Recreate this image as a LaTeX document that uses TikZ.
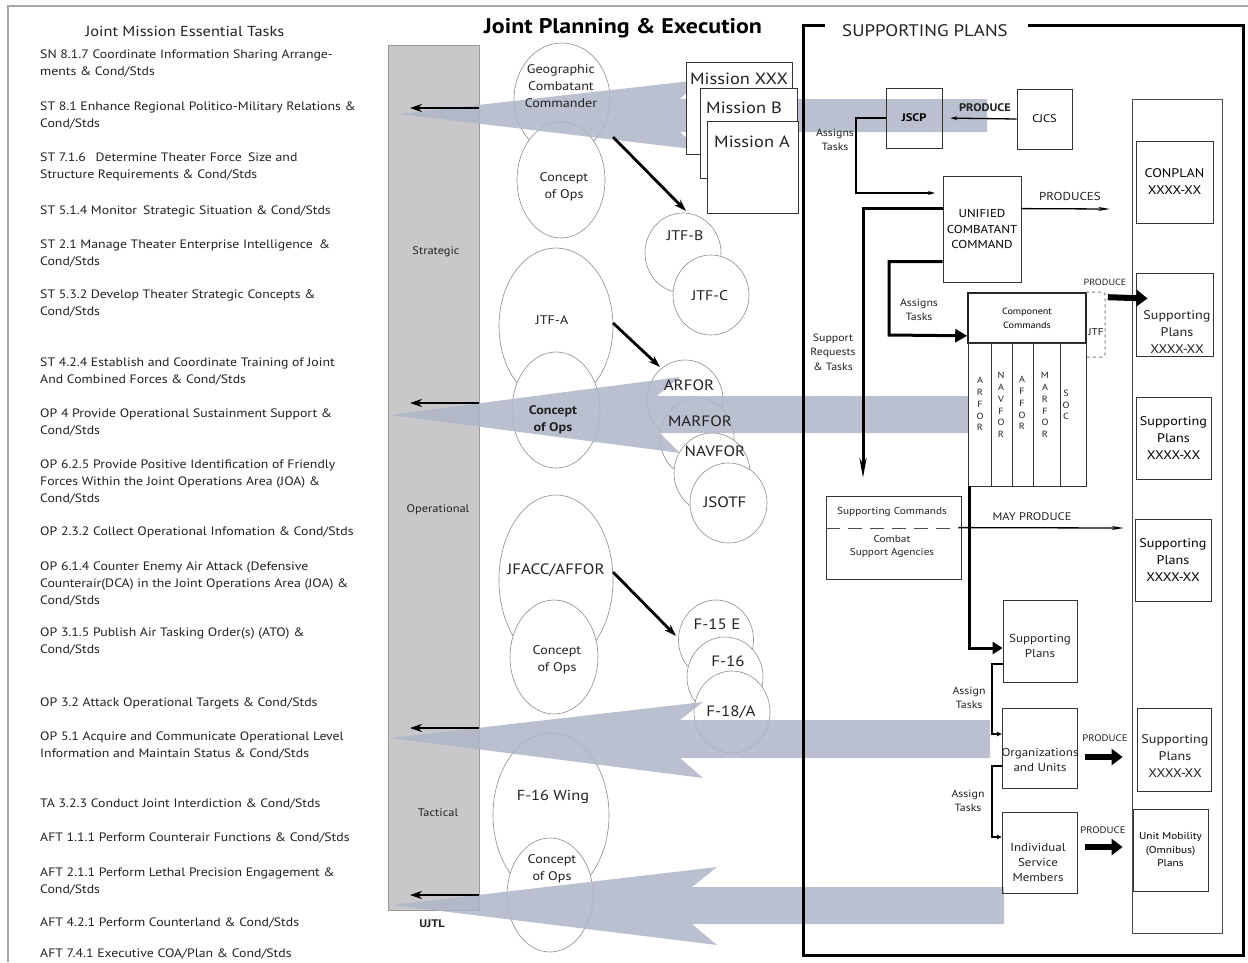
\documentclass[tikz,border=0pt]{standalone}
\usepackage{fontspec}
\setmainfont{PT Sans}[FakeStretch=1.13]
\usetikzlibrary{arrows.meta,shapes.geometric,calc}
\definecolor{ink}{HTML}{222222}
\definecolor{barfill}{HTML}{C8C8CA}
\definecolor{streamgray}{RGB}{176,182,200}
\definecolor{rim}{HTML}{8C8C8C}
\begin{document}
\begin{tikzpicture}[x=1pt,y=-1pt,
  txt/.style={text=ink,inner sep=0pt},
  task/.style={txt,anchor=north west,align=left,font=\fontsize{12.2}{17}\selectfont},
  heading/.style={txt,font=\fontsize{14.5}{17}\selectfont},
  ring/.style={ellipse,draw=rim,line width=0.6pt,fill=white,inner sep=0pt},
  ringlbl/.style={txt,align=center,font=\fontsize{12.5}{17}\selectfont},
  unitlbl/.style={txt,font=\fontsize{15}{17}\selectfont},
  sheet/.style={draw=black!80,line width=0.8pt,fill=white,inner sep=0pt},
  outline/.style={draw=black!80,line width=0.8pt,inner sep=0pt},
  lbl/.style={txt,align=center,font=\fontsize{10.5}{14.5}\selectfont},
  planlbl/.style={txt,align=center,font=\fontsize{12.5}{17}\selectfont},
  stream/.style={fill=streamgray,fill opacity=0.85},
  jump/.style={line width=2.8pt,-{Stealth[length=12pt,width=8pt]}},
  heavy/.style={line width=3pt},
  block/.style={line width=6pt,-{Triangle[length=11pt,width=16pt]}},
  finelink/.style={line width=1.3pt,-{Stealth[length=7pt,width=4pt]}},
  letters/.style={txt,align=center,font=\fontsize{9}{11.8}\selectfont},
]
\useasboundingbox (0,0) rectangle (1248,962);
\fill[white] (0,0) rectangle (1248,962);
\draw[gray!70,line width=1.5pt] (8,962) -- (8,6) -- (1248,6);

% ---------- task list ----------
\node[heading] (jmet) at (185,31) {Joint Mission Essential Tasks};
\node[task] (t01) at (40,49.5) {SN 8.1.7 Coordinate Information Sharing Arrange-\\ments \& Cond/Stds};
\node[task] (t02) at (40,101.5) {ST 8.1 Enhance Regional Politico-Military Relations \&\\Cond/Stds};
\node[task] (t03) at (40,152.5) {ST 7.1.6\hspace{0.8em}Determine Theater Force\hspace{0.5em}Size and\\Structure Requirements \& Cond/Stds};
\node[task] (t04) at (40,205.5) {ST 5.1.4 Monitor\hspace{0.5em}Strategic Situation \& Cond/Stds};
\node[task] (t05) at (40,239.5) {ST 2.1 Manage Theater Enterprise Intelligence\hspace{0.5em}\&\\Cond/Stds};
\node[task] (t06) at (40,289.5) {ST 5.3.2 Develop Theater Strategic Concepts \&\\Cond/Stds};
\node[task] (t07) at (40,357.5) {ST 4.2.4 Establish and Coordinate Training of Joint\\And Combined Forces \& Cond/Stds};
\node[task] (t08) at (40,408.5) {OP 4 Provide Operational Sustainment Support \&\\Cond/Stds};
\node[task] (t09) at (40,459.5) {OP 6.2.5 Provide Positive Identification of Friendly\\Forces Within the Joint Operations Area (JOA) \&\\Cond/Stds};
\node[task] (t10) at (40,526.5) {OP 2.3.2 Collect Operational Infomation \& Cond/Stds};
\node[task] (t11) at (40,561.5) {OP 6.1.4 Counter Enemy Air Attack (Defensive\\Counterair(DCA) in the Joint Operations Area (JOA) \&\\Cond/Stds};
\node[task] (t12) at (40,627.5) {OP 3.1.5 Publish Air Tasking Order(s) (ATO) \&\\Cond/Stds};
\node[task] (t13) at (40,697.5) {OP 3.2 Attack Operational Targets \& Cond/Stds};
\node[task] (t14) at (40,731.5) {OP 5.1 Acquire and Communicate Operational Level\\Information and Maintain Status \& Cond/Stds};
\node[task] (t15) at (40,798.5) {TA 3.2.3 Conduct Joint Interdiction \& Cond/Stds};
\node[task] (t16) at (40,832.5) {AFT 1.1.1 Perform Counterair Functions \& Cond/Stds};
\node[task] (t17) at (40,867.5) {AFT 2.1.1 Perform Lethal Precision Engagement \&\\Cond/Stds};
\node[task] (t18) at (40,917.5) {AFT 4.2.1 Perform Counterland \& Cond/Stds};
\node[task] (t19) at (40,948.5) {AFT 7.4.1 Executive COA/Plan \& Cond/Stds};

% ---------- UJTL level bar ----------
\node[draw=gray!80,fill=barfill,line width=0.6pt,minimum width=91pt,minimum height=865pt,inner sep=0pt] (ujtl) at (433.5,477.5) {};
\node[txt,font=\fontsize{11}{13}\selectfont] (lvs) at (436,252) {Strategic};
\node[txt,font=\fontsize{11}{13}\selectfont] (lvo) at (438,510) {Operational};
\node[txt,font=\fontsize{11}{13}\selectfont] (lvt) at (438,813) {Tactical};
\node[txt,font=\bfseries\fontsize{11}{13}\selectfont] (ujtllbl) at (432,924) {UJTL};

% ---------- centre title ----------
\node[txt,font=\bfseries\fontsize{21.2}{25}\selectfont,text=black] (jpe) at (623,28) {Joint Planning \& Execution};

% ---------- command ellipses ----------
\node[ring,minimum width=96pt,minimum height=112pt] (gcc) at (562,99) {};
\node[ring,minimum width=88pt,minimum height=116pt] (con1) at (561,180) {};
\node[ring,minimum width=114pt,minimum height=156pt] (jtfa) at (556,326) {};
\node[ring,minimum width=88pt,minimum height=116pt] (con2) at (556,410) {};
\node[ring,minimum width=76pt,minimum height=80pt] (jtfb) at (683,253) {};
\node[ring,minimum width=76pt,minimum height=80pt] (jtfc) at (711,295) {};
\node[ring,minimum width=76pt,minimum height=80pt] (arfor) at (685,400) {};
\node[ring,minimum width=74pt,minimum height=80pt] (marfor) at (697,438) {};
\node[ring,minimum width=76pt,minimum height=80pt] (navfor) at (712,473) {};
\node[ring,minimum width=77pt,minimum height=80pt] (jsotf) at (728.5,503) {};
\node[ring,minimum width=114pt,minimum height=170pt] (jfacc) at (556,580) {};
\node[ring,minimum width=88pt,minimum height=114pt] (con3) at (554,657) {};
\node[ring,minimum width=75pt,minimum height=80pt] (f15) at (716,640) {};
\node[ring,minimum width=76pt,minimum height=80pt] (f16) at (725,677) {};
\node[ring,minimum width=76pt,minimum height=82pt] (f18) at (732,712) {};
\node[ring,minimum width=116pt,minimum height=164pt] (wing) at (551,815) {};
\node[ring,minimum width=86pt,minimum height=114pt] (con4) at (550,895) {};

% ---------- reporting streams back to the task list ----------
\path[stream] (398,114) -- (700,80) -- (680,99) -- (987,99) -- (987,132) -- (680,132) -- (700,150) -- cycle;
\path[stream] (390,415) -- (680,377) -- (657,396) -- (968,396) -- (968,433) -- (660,433) -- (680,453) -- cycle;
\path[stream] (390,738) -- (703,702) -- (680,720) -- (990,720) -- (990,758) -- (680,758) -- (703,778) -- cycle;
\path[stream] (392,905) -- (717,867) -- (692,887) -- (1004,887) -- (1004,924) -- (692,924) -- (717,945) -- cycle;

% ---------- ellipse labels ----------
\node[ringlbl] (gcct) at (561,86) {Geographic\\Combatant\\Commander};
\node[ringlbl] (con1t) at (564,187) {Concept\\of Ops};
\node[ringlbl] (jtfat) at (552,320) {JTF-A};
\node[ringlbl,font=\bfseries\fontsize{12.5}{17}\selectfont] (con2t) at (553,420) {Concept\\of Ops};
\node[unitlbl,font=\fontsize{14}{17}\selectfont] (jtfbt) at (685,236) {JTF-B};
\node[unitlbl,font=\fontsize{14}{17}\selectfont] (jtfct) at (710,296) {JTF-C};
\node[unitlbl] (arfort) at (689,385) {ARFOR};
\node[unitlbl] (marfort) at (700,421) {MARFOR};
\node[unitlbl] (navfort) at (715,451) {NAVFOR};
\node[unitlbl] (jsotft) at (725,502) {JSOTF};
\node[unitlbl] (jfacct) at (556,570) {JFACC/AFFOR};
\node[ringlbl] (con3t) at (557,660) {Concept\\of Ops};
\node[unitlbl] (f15t) at (717,624) {F-15 E};
\node[unitlbl] (f16t) at (728,661) {F-16};
\node[unitlbl] (f18t) at (731,712) {F-18/A};
\node[unitlbl,font=\fontsize{14.5}{18}\selectfont] (wingt) at (553,797) {F-16 Wing};
\node[ringlbl] (con4t) at (552,869) {Concept\\of Ops};

% ---------- tasking arrows between commands ----------
\coordinate (gccOut) at (613,137);
\coordinate (jtfbIn) at (686,211);
\coordinate (jtfaOut) at (613,323);
\coordinate (arforIn) at (660,367);
\coordinate (jfaccOut) at (613,572);
\coordinate (f15In) at (676,636);
\draw[jump] (gccOut) -- (jtfbIn);
\draw[jump] (jtfaOut) -- (arforIn);
\draw[jump] (jfaccOut) -- (f15In);

% ---------- arrows into the task list ----------
\coordinate (s1a) at (479,108); \coordinate (s1b) at (410,108);
\coordinate (s2a) at (479,403); \coordinate (s2b) at (410,403);
\coordinate (s3a) at (479,728); \coordinate (s3b) at (410,728);
\coordinate (s4a) at (479,895); \coordinate (s4b) at (410,895);
\draw[jump] (s1a) -- (s1b);
\draw[jump] (s2a) -- (s2b);
\draw[jump] (s3a) -- (s3b);
\draw[jump] (s4a) -- (s4b);

% ---------- mission sheets ----------
\node[sheet,minimum width=106pt,minimum height=92pt] (mxxx) at (739,108) {};
\node[sheet,minimum width=97pt,minimum height=90pt] (mb) at (748.5,133) {};
\node[sheet,minimum width=91pt,minimum height=92pt] (ma) at (752.5,167) {};
\node[txt,font=\fontsize{16.3}{20}\selectfont] (mxxxt) at (739,79) {Mission XXX};
\node[txt,font=\fontsize{16.3}{20}\selectfont] (mbt) at (744,108) {Mission B};
\node[txt,font=\fontsize{16.3}{20}\selectfont] (mat) at (752,142) {Mission A};

% ---------- supporting plans frame ----------
\draw[line width=3pt] (825,25) -- (803,25) -- (803,955) -- (1243,955) -- (1243,25) -- (1028,25);
\node[txt,font=\fontsize{16.7}{19}\selectfont] (sptitle) at (925,31) {SUPPORTING PLANS};

% boxes
\node[outline,minimum width=56pt,minimum height=60pt,font=\bfseries\fontsize{11}{13}\selectfont] (jscp) at (914,118) {JSCP};
\node[outline,minimum width=55pt,minimum height=60pt,font=\fontsize{11}{13}\selectfont] (cjcs) at (1044.5,119) {CJCS};
\node[outline,minimum width=78pt,minimum height=106pt,align=center,font=\fontsize{11.5}{15.5}\selectfont] (ucc) at (982,229) {UNIFIED\\COMBATANT\\COMMAND};
\node[draw=black!85,line width=1.6pt,minimum width=118pt,minimum height=50pt,align=center,font=\fontsize{9}{14}\selectfont,inner sep=0pt] (cc) at (1027,318) {Component\\Commands};
\node[outline,minimum width=118pt,minimum height=143pt] (ccol) at (1027,414.5) {};
\draw[black!80,line width=1pt] (991,343) -- (991,486) (1012,343) -- (1012,486) (1033,343) -- (1033,486) (1060,343) -- (1060,486);
\node[letters] (lar) at (980,404) {A\\R\\F\\O\\R};
\node[letters] (lna) at (1001,405) {N\\A\\V\\F\\O\\R};
\node[letters] (laf) at (1022,403) {A\\F\\F\\O\\R};
\node[letters] (lma) at (1045,405) {M\\A\\R\\F\\O\\R};
\node[letters] (lso) at (1066,405) {S\\O\\C};
\draw[gray,dashed,line width=1pt,rounded corners=3pt] (1086,292) -- (1105,292) -- (1105,357) -- (1086,357);
\node[txt,font=\fontsize{10}{12}\selectfont] (jtfbox) at (1096,332) {JTF};

% plans column
\draw[black!70,line width=0.8pt] (1132,99) rectangle (1222,933);
\node[outline,minimum width=77pt,minimum height=82pt,align=center,font=\fontsize{12.5}{17}\selectfont] (conplan) at (1174.5,182) {CONPLAN\\XXXX-XX};
\node[outline,minimum width=77pt,minimum height=83pt] (sp1) at (1174.5,314.5) {};
\node[planlbl] (sp1t) at (1177,332) {Supporting\\Plans\\XXXX-XX};
\node[outline,minimum width=75pt,minimum height=82pt,align=center,font=\fontsize{12.5}{17}\selectfont] (sp2) at (1173.5,438) {Supporting\\Plans\\XXXX-XX};
\node[outline,minimum width=76pt,minimum height=82pt,align=center,font=\fontsize{12.5}{17}\selectfont] (sp3) at (1173,560) {Supporting\\Plans\\XXXX-XX};
\node[outline,minimum width=74pt,minimum height=83pt] (sp4) at (1174,749.5) {};
\node[planlbl] (sp4t) at (1175,756) {Supporting\\Plans\\XXXX-XX};
\node[outline,minimum width=75pt,minimum height=82pt,align=center,font=\fontsize{10}{13.5}\selectfont] (um) at (1170.5,850) {Unit Mobility\\(Omnibus)\\Plans};

\node[outline,minimum width=135pt,minimum height=83pt] (supcmd) at (893.5,537.5) {};
\draw[black!70,dashed,dash pattern=on 14pt off 8pt,line width=0.8pt] (826,528) -- (958,528);
\node[txt,font=\fontsize{10}{12}\selectfont] (supcmdt) at (892,512) {Supporting Commands};
\node[txt,align=center,font=\fontsize{10}{13}\selectfont] (csat) at (892,546) {Combat\\Support Agencies};

\node[outline,minimum width=74pt,minimum height=82pt] (spS) at (1040,641) {};
\node[txt,align=center,font=\fontsize{11.5}{15}\selectfont] (spSt) at (1040,646) {Supporting\\Plans};
\node[outline,minimum width=75pt,minimum height=80pt] (org) at (1039.5,748) {};
\node[txt,align=center,font=\fontsize{11.5}{15}\selectfont] (orgt) at (1040,760) {Organizations\\and Units};
\node[outline,minimum width=75pt,minimum height=81pt] (ism) at (1039.5,852.5) {};
\node[txt,align=center,font=\fontsize{11.5}{15}\selectfont] (ismt) at (1038,862) {Individual\\Service\\Members};

% labels
\node[txt,font=\bfseries\fontsize{11}{13}\selectfont] (prod1) at (985,108) {PRODUCE};
\node[lbl] (asg1) at (835,140) {Assigns\\Tasks};
\node[txt,font=\fontsize{11.5}{13}\selectfont] (prods) at (1070,196) {PRODUCES};
\node[lbl] (sreq) at (833,352) {Support\\Requests\\\& Tasks};
\node[lbl] (asg2) at (919,310) {Assigns\\Tasks};
\node[txt,font=\fontsize{9}{11}\selectfont] (prod2) at (1105,282) {PRODUCE};
\node[txt,font=\fontsize{11}{13}\selectfont] (mayp) at (1032,517) {MAY PRODUCE};
\node[lbl] (asg3) at (969,698) {Assign\\Tasks};
\node[lbl] (asg4) at (968,801) {Assign\\Tasks};
\node[txt,font=\fontsize{9.5}{11}\selectfont] (prod3) at (1105,738) {PRODUCE};
\node[txt,font=\fontsize{9.5}{11}\selectfont] (prod4) at (1103,830) {PRODUCE};

% connectors
\draw[finelink,shorten >=8pt] (cjcs.west) -- (jscp.east);
\coordinate (uccIn) at (935,193);
\draw[finelink] (jscp.west) -| (856,193) -- (uccIn);
\coordinate (prodsEnd) at (1110,209);
\draw[line width=1.3pt,-{Stealth[length=12pt,width=4pt]}] ($(ucc.north east)+(0,33)$) -- (prodsEnd);
\coordinate (sreqEnd) at (863,478);
\draw[heavy,-{Stealth[length=20pt,width=7pt]}] ($(ucc.north west)+(0,33)$) -| (sreqEnd);
\draw[heavy,-{Triangle[length=12pt,width=13pt]}] ($(ucc.north west)+(0,86)$) -| (889,335) -- ($(cc.south west)+(0,-8)$);
\draw[heavy,-{Triangle[length=10pt,width=12pt]}] ($(ccol.south west)+(2,0)$) |- ($(spS.west)+(0,7)$);
\draw[line width=1.3pt,-{Stealth[length=12pt,width=4pt]}] ($(supcmd.north east)+(-3,32)$) -- ($(sp3.west)+(-11,-32)$);
\draw[block] ($(cc.north east)+(21,5)$) -- ($(sp1.west)+(12,-16)$);
\draw[block] ($(org.east)+(8,9)$) -- ($(sp4.west)+(-14,7.5)$);
\draw[block] ($(ism.east)+(8,-5.5)$) -- ($(um.west)+(-10,-3)$);
\draw[line width=2pt,-{Stealth[length=5pt,width=5pt]}] ($(spS.west)+(0,23)$) -- ++(-11,0) |- ($(org.west)+(0,-14)$);
\draw[line width=2pt,-{Stealth[length=5pt,width=5pt]}] ($(org.west)+(0,18)$) -- ++(-10,0) |- ($(ism.west)+(0,-15.5)$);
\end{tikzpicture}
\end{document}
